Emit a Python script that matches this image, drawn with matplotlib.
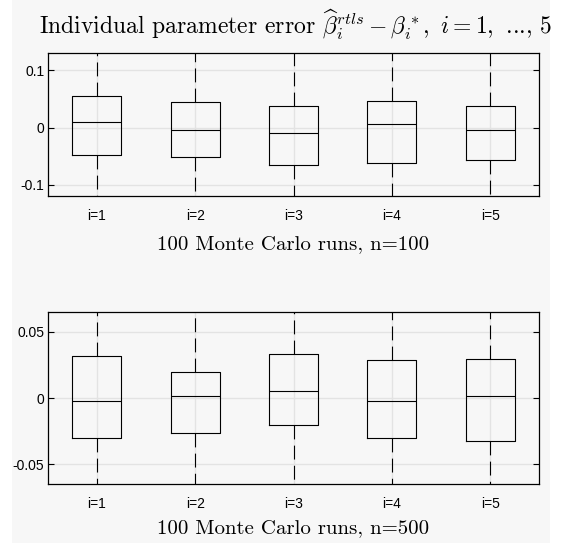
import matplotlib

matplotlib.use("Agg")
import matplotlib.pyplot as plt
from matplotlib.patches import Rectangle

# Individual parameter error, quartiles
labels = ["i=1", "i=2", "i=3", "i=4", "i=5"]

# 100 Monte Carlo runs, n=100
q1_n100 = [-0.048, -0.051, -0.066, -0.062, -0.057]
med_n100 = [0.009, -0.0035, -0.010, 0.0053, -0.005]
q3_n100 = [0.056, 0.0446, 0.0375, 0.046, 0.037]
wlo_n100 = [-0.16, -0.16, -0.17, -0.17, -0.16]
whi_n100 = [0.17, 0.16, 0.16, 0.17, 0.16]

# 100 Monte Carlo runs, n=500
q1_n500 = [-0.030, -0.0267, -0.0205, -0.0305, -0.0327]
med_n500 = [-0.002, 0.0018, 0.0055, -0.002, 0.0013]
q3_n500 = [0.032, 0.0195, 0.0335, 0.0285, 0.029]
wlo_n500 = [-0.09, -0.085, -0.08, -0.09, -0.09]
whi_n500 = [0.09, 0.075, 0.09, 0.085, 0.085]

BG = "#f7f7f7"
W, H = 561, 543

plt.rcParams["mathtext.fontset"] = "cm"
plt.rcParams["lines.scale_dashes"] = False


def _stats(q1, med, q3, lo, hi):
    return [
        {"q1": a, "med": m, "q3": b, "whislo": l, "whishi": h, "fliers": []}
        for a, m, b, l, h in zip(q1, med, q3, lo, hi)
    ]


def _panel(ax, stats, ylim, yticks, yticklabels):
    ax.set_facecolor(BG)
    ax.grid(True, color="#e3e3e3", linewidth=1.0, zorder=0)
    ax.set_axisbelow(True)
    ax.bxp(
        stats,
        positions=range(1, len(stats) + 1),
        widths=0.5,
        showcaps=False,
        showfliers=False,
        boxprops=dict(color="black", linewidth=0.8),
        medianprops=dict(color="black", linewidth=0.8),
        whiskerprops=dict(color="black", linewidth=0.8, linestyle=(0, (10, 4.5))),
    )
    ax.set_xlim(0.5, len(stats) + 0.5)
    ax.set_ylim(*ylim)
    ax.set_yticks(yticks)
    ax.set_yticklabels(yticklabels, family="Liberation Sans", fontsize=10)
    ax.set_xticks(range(1, len(stats) + 1))
    ax.set_xticklabels(labels, family="Liberation Sans", fontsize=10)
    ax.tick_params(axis="y", direction="in", length=4, width=0.8,
                   left=True, right=True, pad=2.5)
    ax.tick_params(axis="x", length=0, pad=9)
    for s in ax.spines.values():
        s.set_linewidth(0.9)


fig = plt.figure(figsize=(W / 100, H / 100), dpi=100)
fig.patch.set_facecolor("white")
fig.add_artist(Rectangle((12 / W, 0), 538 / W, 1, transform=fig.transFigure,
                         facecolor=BG, edgecolor="none", zorder=-10))

left, width = 47.7 / W, 491.6 / W
ax_top = fig.add_axes([left, 1 - 196 / H, width, (196 - 53.3) / H])
ax_bot = fig.add_axes([left, 1 - 484.3 / H, width, (484.3 - 311.7) / H])

_panel(ax_top, _stats(q1_n100, med_n100, q3_n100, wlo_n100, whi_n100),
       (-0.12, 0.13), [-0.1, 0, 0.1], ["-0.1", "0", "0.1"])
_panel(ax_bot, _stats(q1_n500, med_n500, q3_n500, wlo_n500, whi_n500),
       (-0.065, 0.065), [-0.05, 0, 0.05], ["-0.05", "0", "0.05"])

xc = left + width / 2
title = (r"Individual parameter error $\widehat{\beta}_i^{rtls} - \beta_i^*,\ i = 1,$"
         r" ..., $5$")
fig.text(xc + 2 / W, 1 - 34.3 / H, title,
         family="cmr10", fontsize=17, ha="center", va="baseline")
fig.text(xc, 1 - 249.3 / H, "100 Monte Carlo runs, n=100",
         family="cmr10", fontsize=15, ha="center", va="baseline")
fig.text(xc, 1 - 532.7 / H, "100 Monte Carlo runs, n=500",
         family="cmr10", fontsize=15, ha="center", va="baseline")

fig.savefig("out.png", dpi=100, facecolor=fig.get_facecolor())
